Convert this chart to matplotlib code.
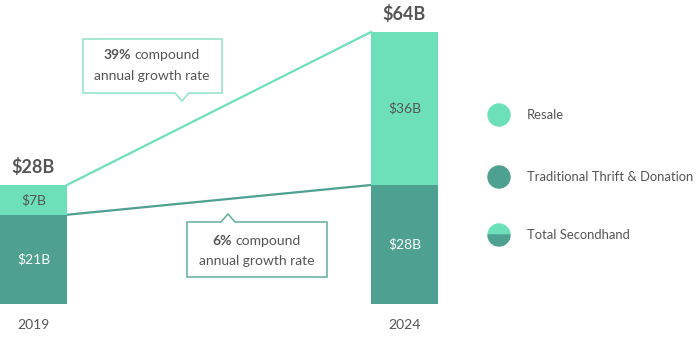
import matplotlib
matplotlib.use("Agg")
import matplotlib.pyplot as plt
from matplotlib.patches import Polygon, Circle, Wedge

plt.rcParams['font.family'] = ['Lato', 'DejaVu Sans']

years = ["2019", "2024"]
traditional = [21, 28]
resale = [7, 36]
totals = [28, 64]
cagr_resale = "39%"
cagr_trad = "6%"
legend_labels = ["Resale", "Traditional Thrift & Donation", "Total Secondhand"]

C_RES = "#6de0ba"
C_TRAD = "#4ea091"
C_TEXT = "#555555"

fig = plt.figure(figsize=(7, 3.41), dpi=100)
W, H = 700, 341

# data axes: bars
w = 67 / 371
ax = fig.add_axes([0, (H - 304) / H, 438 / W, 272 / H])
ax.set_xlim(-w / 2, 1 + w / 2)
ax.set_ylim(0, max(totals))
ax.axis('off')
x = list(range(len(years)))
ax.bar(x, traditional, width=w, color=C_TRAD, zorder=2)
ax.bar(x, resale, width=w, bottom=traditional, color=C_RES, zorder=2)

# connecting growth lines
ax.plot([x[0] + w / 2, x[1] - w / 2], [totals[0], totals[1]], color=C_RES, lw=1.6, zorder=1, clip_on=False)
ax.plot([x[0] + w / 2, x[1] - w / 2], [traditional[0], traditional[1]], color=C_TRAD, lw=1.6, zorder=1, clip_on=False)

for i in x:
    ax.text(i, traditional[i] / 2, f"${traditional[i]}B", ha='center', va='center', color='white', fontsize=10)
    ax.text(i, traditional[i] + resale[i] / 2, f"${resale[i]}B", ha='center', va='center', color=C_TEXT, fontsize=10)
    ax.text(i, totals[i] + 2.2, f"${totals[i]}B", ha='center', va='bottom', color=C_TEXT, fontsize=13,
            fontweight='bold', clip_on=False)
    ax.text(i, -3.6, years[i], ha='center', va='top', color=C_TEXT, fontsize=10, clip_on=False)

# overlay axes in pixel coordinates
ov = fig.add_axes([0, 0, 1, 1], facecolor='none')
ov.set_xlim(0, W)
ov.set_ylim(H, 0)
ov.axis('off')

def callout(x0, y0, x1, y1, px, tip_up, ec):
    if tip_up:
        pts = [(x0, y0), (px - 7, y0), (px, y0 - 8), (px + 7, y0), (x1, y0), (x1, y1), (x0, y1)]
    else:
        pts = [(x0, y0), (x1, y0), (x1, y1), (px + 7, y1), (px, y1 + 8), (px - 7, y1), (x0, y1)]
    ov.add_patch(Polygon(pts, closed=True, facecolor='white', edgecolor=ec, lw=1.1, zorder=3))

def two_part(xmid, y, bold, rest):
    # bold part ends at split point, regular part starts right after
    ov.text(xmid, y, bold, ha='right', va='center', fontsize=10, fontweight='bold', color=C_TEXT, zorder=4)
    ov.text(xmid + 3, y, rest, ha='left', va='center', fontsize=10, color=C_TEXT, zorder=4)

callout(83, 39, 222, 93, 182, False, "#8fe3c8")
two_part(131, 55, cagr_resale, "compound")
ov.text(152, 76, "annual growth rate", ha='center', va='center', fontsize=10, color=C_TEXT, zorder=4)

callout(187, 222, 327, 277, 228, True, "#5fae9e")
two_part(232, 241, cagr_trad, "compound")
ov.text(257, 261, "annual growth rate", ha='center', va='center', fontsize=10, color=C_TEXT, zorder=4)

# legend
lx, r = 499, 11
ly = [115, 177, 235]
ov.add_patch(Circle((lx, ly[0]), r, color=C_RES))
ov.add_patch(Circle((lx, ly[1]), r, color=C_TRAD))
ov.add_patch(Wedge((lx, ly[2]), r, 180, 360, color=C_RES))
ov.add_patch(Wedge((lx, ly[2]), r, 0, 180, color=C_TRAD))
for yy, lab in zip(ly, legend_labels):
    ov.text(527, yy, lab, ha='left', va='center', fontsize=9.4, color=C_TEXT)

fig.savefig("out.png", dpi=100, facecolor='white')
